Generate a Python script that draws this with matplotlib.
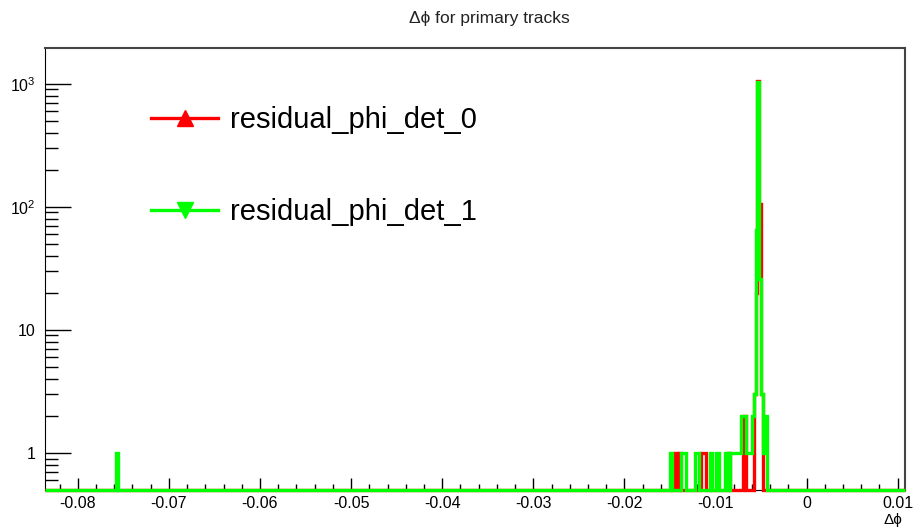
import numpy as np
import matplotlib
matplotlib.use('Agg')
from matplotlib import pyplot as plt
from matplotlib.lines import Line2D
from matplotlib.ticker import FixedLocator, LogLocator, NullFormatter

plt.rcParams['font.family'] = ['Liberation Sans', 'DejaVu Sans']
plt.rcParams['mathtext.fontset'] = 'custom'
plt.rcParams['mathtext.rm'] = 'Liberation Sans'
plt.rcParams['axes.unicode_minus'] = False

# histogram binning (delta phi)
phi_lo, phi_hi, nbins = -0.0836, 0.0108, 472

# filled bins: bin centre -> entries
det0_phi = [-0.0145, -0.0143, -0.0139, -0.0115, -0.0113, -0.0111, -0.0085,
            -0.0069, -0.0067, -0.0057, -0.0055, -0.0053, -0.0051, -0.0049]
det0_cnt = [1, 1, 1, 1, 1, 1, 1,
            2, 2, 3, 20, 1060, 106, 3]

det1_phi = [-0.0757, -0.0149, -0.0137, -0.0135, -0.0133, -0.0121, -0.0119,
            -0.0105, -0.0099, -0.0097, -0.0089, -0.0087, -0.0083, -0.0081,
            -0.0079, -0.0077, -0.0075, -0.0073, -0.0071, -0.0069, -0.0067,
            -0.0065, -0.0063, -0.0061, -0.0059, -0.0057, -0.0055, -0.0053,
            -0.0051, -0.0049, -0.0047, -0.0045]
det1_cnt = [1, 1, 1, 1, 1, 1, 1,
            1, 1, 1, 1, 1, 1, 1,
            1, 1, 1, 1, 2, 2, 2,
            1, 1, 1, 2, 3, 65, 1040,
            26, 3, 1, 2]

x_ticks = [-0.08, -0.07, -0.06, -0.05, -0.04, -0.03, -0.02, -0.01, 0, 0.01]
x_labels = ['-0.08', '-0.07', '-0.06', '-0.05', '-0.04', '-0.03', '-0.02',
            '-0.01', '0', '0.01']
y_ticks = [1, 10, 100, 1000]
y_labels = ['1', '10', '$10^{2}$', '$10^{3}$']

ymin, ymax = 0.5, 1950

edges = np.linspace(phi_lo, phi_hi, nbins + 1)


def fill(phi, cnt):
    h = np.zeros(nbins)
    idx = np.floor((np.asarray(phi) - phi_lo) / (edges[1] - edges[0])).astype(int)
    h[idx] = cnt
    # empty bins sit on the bottom of the frame
    return np.clip(h, ymin, None)


h0 = fill(det0_phi, det0_cnt)
h1 = fill(det1_phi, det1_cnt)

fig = plt.figure(figsize=(9.16, 5.31), dpi=100)
ax = fig.add_axes([45/916, 41/531, 860/916, 442/531])

ax.stairs(h0, edges, baseline=None, color='#ff0000', lw=2.4, clip_on=False, zorder=3)
ax.stairs(h1, edges, baseline=None, color='#00ff00', lw=2.4, clip_on=False, zorder=4)

ax.set_yscale('log')
ax.set_xlim(phi_lo, phi_hi)
ax.set_ylim(ymin, ymax)

ax.xaxis.set_major_locator(FixedLocator(x_ticks))
ax.set_xticklabels(x_labels)
ax.xaxis.set_minor_locator(FixedLocator(np.arange(-0.082, 0.0105, 0.002)))
ax.yaxis.set_major_locator(FixedLocator(y_ticks))
ax.set_yticklabels(y_labels)
ax.yaxis.set_minor_locator(LogLocator(base=10, subs=np.arange(2, 10), numticks=20))
ax.yaxis.set_minor_formatter(NullFormatter())

ax.tick_params(axis='x', which='major', direction='in', length=8.6, width=1,
               labelsize=11.5, pad=4, top=False)
ax.tick_params(axis='x', which='minor', direction='in', length=4.3, width=1, top=False)
ax.tick_params(axis='y', which='major', direction='in', length=19, width=1,
               labelsize=11.5, pad=7, right=False)
ax.tick_params(axis='y', which='minor', direction='in', length=9.5, width=1, right=False)

for s in ['top', 'right']:
    ax.spines[s].set_color('#444444')
    ax.spines[s].set_linewidth(1.5)

handles = [Line2D([], [], color='#ff0000', lw=2.4, marker='^', markersize=12),
           Line2D([], [], color='#00ff00', lw=2.4, marker='v', markersize=12)]
fig.legend(handles, ['residual_phi_det_0', 'residual_phi_det_1'],
           loc='upper left', bbox_to_anchor=(151/916, 1 - 106/531),
           frameon=False, fontsize=21, handlelength=2.3, handletextpad=0.4,
           labelspacing=2.2, borderpad=0, borderaxespad=0)

fig.text(489/916, 1 - 18/531, 'Δϕ for primary tracks', ha='center', va='center',
         fontsize=12.5, color='#222222')
fig.text(893/916, 1 - 520/531, 'Δϕ', ha='center', va='center', fontsize=11)

fig.savefig('out.png', dpi=100)
